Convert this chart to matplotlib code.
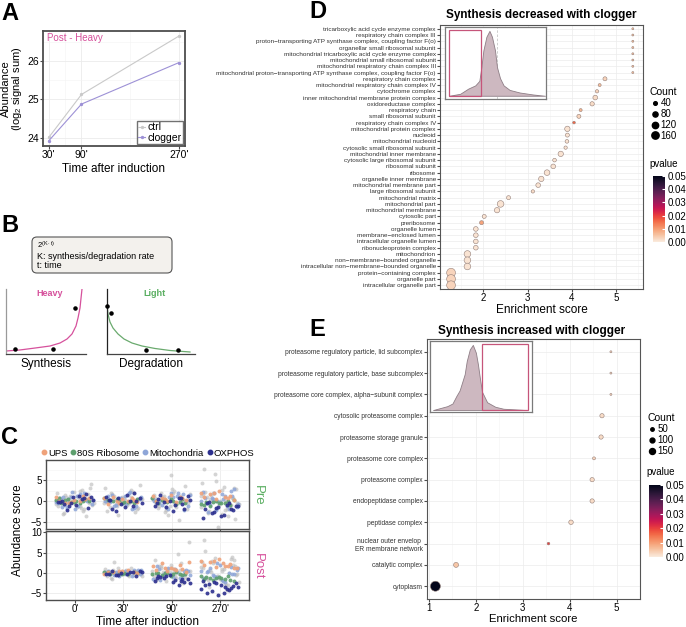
import numpy as np
import matplotlib
matplotlib.use("Agg")
import matplotlib.pyplot as plt
import seaborn as sns
from matplotlib.patches import FancyBboxPatch, Rectangle
from matplotlib.lines import Line2D

plt.rcParams['font.family'] = ['Liberation Sans', 'DejaVu Sans']
plt.rcParams['mathtext.default'] = 'regular'

W, H = 686, 627

# ───────── DATA ─────────
# A: post-heavy abundance
a_times   = [30, 90, 270]
a_ticklab = ["30'", "90'", "270'"]
a_ctrl    = [24.02, 25.13, 26.65]
a_clogger = [23.93, 24.88, 25.96]

# B: schematic curves (time 0-10, signal 0-10)
syn_t   = [0, 1.75, 3.63, 5.5, 6.75, 7.63, 8.25, 8.75, 9.0, 9.25, 9.38, 9.5]
syn_y   = [0.46, 0.62, 0.92, 1.23, 1.69, 2.31, 3.08, 4.31, 5.54, 7.08, 8.62, 10.0]
syn_pt_t = [1.13, 5.88, 8.63]
syn_pt_y = [0.77, 0.77, 7.08]
deg_t   = [0, 0.11, 0.34, 0.68, 1.25, 1.93, 2.84, 3.98, 5.45, 7.16, 9.43]
deg_y   = [7.5, 6.15, 4.92, 4.0, 3.08, 2.31, 1.69, 1.23, 0.85, 0.54, 0.31]
deg_pt_t = [0.0, 0.45, 4.43, 8.07]
deg_pt_y = [7.38, 6.31, 0.62, 0.62]

# C: abundance scores per time point (0', 30', 90', 270')
c_times = ["0'", "30'", "90'", "270'"]
pre_other = [
    [0.3, -1.2, 1.5, -0.4, 2.1, 0.8, -2.3, 0.1, -0.9, 1.1, -3.1, 0.5, -0.2, 1.8, -1.6, 0.9, 3.2, -0.7,
     0.2, -1.9, 1.3, -0.5, 0.6, -2.8, 1.6, 0.0, -1.1, 2.6, -0.3, 4.1, -1.4, 0.4, -3.6, 1.0, -0.8, 2.4],
    [-0.6, 1.4, 0.2, -2.0, 0.9, -0.3, 2.6, -1.3, 0.5, -0.9, 1.9, -2.7, 0.1, 3.0, -0.5, 1.2, -1.7, 0.7,
     -0.1, 2.2, -3.3, 0.4, -1.0, 1.6, -0.2, 0.8, -2.4, 1.0, -0.7, 3.8, 0.3, -1.5, 2.0, -0.4],
    [0.7, -1.5, 1.8, -0.2, 6.3, -0.8, 1.1, -2.6, 0.3, 2.4, -1.1, 0.0, -3.4, 1.4, -0.6, 0.9, -1.9, 2.9,
     -0.3, 0.5, -2.2, 1.7, -0.9, 0.2, 3.5, -1.3, 0.6, -4.6, 1.2, -0.5, 2.0, -1.7, 0.4],
    [1.2, -2.1, 0.4, 3.1, -1.0, 7.6, -3.5, 1.9, -0.4, 2.6, -2.8, 0.8, -1.6, 4.3, -0.2, 1.5, -4.4, 0.1,
     2.2, -1.2, 6.5, -0.7, 3.4, -2.5, 0.6, -6.3, 1.7, -1.9, 0.0, 2.9, -3.1, 1.0, -0.9, 4.8, -1.4, 0.3],
]
pre_mito = [
    [0.5, -0.8, 1.2, -1.4, 0.2, 0.9, -0.3, 1.6, -1.0, 0.1, -1.9, 0.7, 1.9, -0.6, 0.3, -1.2, 1.0, -0.1, 2.2, -0.4, 0.6, -1.6],
    [-0.9, 0.4, 1.3, -0.2, -1.6, 0.8, 0.0, 1.8, -1.1, 0.5, -0.5, 1.1, -2.0, 0.2, 0.9, -0.7, 1.5, -1.3, 0.6, -0.1, 2.1],
    [0.2, -1.3, 0.9, -0.5, 1.6, -1.8, 0.4, 1.2, -0.9, 0.0, 2.0, -0.3, 0.7, -1.5, 1.4, -0.6, 0.3, -2.2, 1.0, -0.1, 1.8],
    [0.5, -1.4, 1.6, -0.6, 2.3, -2.2, 0.1, 1.1, -1.0, 2.8, -0.3, 0.8, -1.8, 1.9, -0.8, 0.4, -2.6, 1.3, -0.1, 2.1, -1.2, 0.7],
]
pre_oxphos = [
    [-0.3, 0.6, -1.1, 0.2, 1.3, -0.7, -1.6, 0.9, -0.2, 0.4, -2.1, 1.0, -0.9, 0.1, 1.7, -0.5],
    [0.3, -1.2, 0.8, -0.4, 1.4, -1.8, 0.1, -0.8, 1.0, -0.1, -2.3, 0.6, -1.4, 0.2, 1.8],
    [-0.5, 0.8, -1.5, 0.3, -0.9, 1.5, -2.0, 0.0, -1.2, 0.6, -0.3, 1.1, -2.5, 0.4, -0.7],
    [-1.8, -0.6, -2.7, -1.1, -3.4, -0.2, -2.2, -1.5, -4.1, -0.9, -2.9, -1.3, -3.7, -0.4, -2.0, -1.7],
]
pre_ribo = [
    [0.1, -0.4, 0.5, -0.2, 0.3, -0.6, 0.2, 0.0, -0.3, 0.6, -0.1, 0.4],
    [-0.2, 0.3, -0.5, 0.1, 0.6, -0.3, 0.0, 0.4, -0.6, 0.2, -0.1, 0.5],
    [0.0, -0.5, 0.4, -0.2, 0.6, -0.7, 0.2, -0.4, 0.5, 0.1, -0.3, 0.3],
    [-0.6, -0.2, -1.0, 0.1, -0.8, -0.4, -1.3, 0.2, -0.5, -0.9, 0.0, -0.3],
]
pre_ups = [
    [0.4, -0.3, 0.9, 0.1, -0.6, 0.6, 0.2, -0.1, 1.1, -0.4],
    [0.2, -0.5, 0.7, 0.0, 1.0, -0.2, 0.4, -0.7, 0.6, 0.1],
    [0.6, 0.1, 1.2, -0.3, 0.8, 0.3, 1.5, -0.1, 0.9, 0.4],
    [1.2, 0.5, 2.0, 0.9, 1.6, 0.2, 2.4, 1.0, 0.7, 1.8],
]
post_other = [
    [],
    [0.2, -0.5, 0.7, -0.2, 0.4, -0.9, 1.1, 0.0, -0.4, 0.6, -1.2, 0.3, -0.1, 0.9, -0.7, 2.6, 0.1,
     -0.3, 0.5, -0.6, 1.3, -0.8, 0.2, -1.5, 0.4, -0.2],
    [0.4, -1.2, 1.3, -0.3, 2.0, -1.8, 0.7, -0.6, 7.7, 0.1, 1.6, -2.4, 0.9, -0.9, 4.6, 0.3, -1.5, 1.1,
     -0.1, 2.4, -2.0, 0.5, -0.7, 1.8, -1.1, 0.2, 3.1, -0.4],
    [1.5, -2.4, 0.6, 3.2, -1.2, 8.1, -3.0, 2.3, -0.3, 1.0, -1.8, 4.0, -0.7, 2.7, -2.9, 0.2, 1.8, -1.5,
     5.3, -0.1, 3.6, -2.2, 0.9, -3.6, 2.0, -0.9, 1.2, -4.2, 2.9, -0.5, 0.4, -1.3, 3.3],
]
post_mito = [
    [],
    [0.1, -0.4, 0.5, -0.2, 0.8, -0.7, 0.3, 0.0, -0.5, 0.6, -0.1, 0.4, -0.9, 0.2, 0.7, -0.3],
    [-0.3, 0.5, -1.0, 0.9, -0.6, 1.3, -1.5, 0.2, -0.8, 0.7, -0.2, 1.6, -1.2, 0.3, -0.5, 1.0, -1.8, 0.4],
    [-0.6, 0.8, -1.7, 0.2, 1.5, -1.1, 0.5, -2.3, 1.1, -0.3, 2.0, -1.4, 0.0, -0.8, 1.3, -1.9, 0.4, -0.4, 2.4, -1.2],
]
post_oxphos = [
    [],
    [-0.2, 0.3, -0.6, 0.1, -0.4, 0.5, -0.8, 0.0, -0.3, 0.2, -0.5, 0.4],
    [-1.4, -2.0, -0.9, -2.6, -1.7, -1.1, -2.3, -0.6, -1.9, -2.9, -1.3, -1.6, -2.2, -0.8, -1.5],
    [-3.0, -4.2, -2.3, -3.6, -4.9, -2.8, -3.3, -5.4, -2.0, -3.9, -4.5, -2.6, -3.1, -5.0, -3.7, -2.4, -4.1, -3.4],
]
post_ribo = [
    [],
    [0.0, -0.2, 0.2, -0.1, 0.1, -0.3, 0.3, 0.0, -0.2, 0.1],
    [-0.3, 0.0, -0.6, -0.1, -0.4, 0.1, -0.5, -0.2, -0.7, 0.0, -0.3, -0.1],
    [-1.4, -1.0, -1.8, -1.2, -0.8, -1.6, -1.3, -2.0, -1.1, -1.5, -0.9, -1.7],
]
post_ups = [
    [],
    [0.1, 0.4, -0.2, 0.6, 0.2, -0.1, 0.5, 0.3],
    [1.0, 0.5, 1.7, 0.8, 2.3, 0.3, 1.3, 0.6, 1.9, 1.1, 2.7, 0.9],
    [2.2, 1.4, 3.0, 1.8, 2.6, 1.1, 3.4, 2.0, 1.6, 2.8, 1.3, 2.4],
]

# D: GO terms, synthesis decreased
d_labels = [
    "tricarboxylic acid cycle enzyme complex",
    "respiratory chain complex III",
    "proton\u2212transporting ATP synthase complex, coupling factor F(o)",
    "organellar small ribosomal subunit",
    "mitochondrial tricarboxylic acid cycle enzyme complex",
    "mitochondrial small ribosomal subunit",
    "mitochondrial respiratory chain complex III",
    "mitochondrial proton\u2212transporting ATP synthase complex, coupling factor F(o)",
    "respiratory chain complex",
    "mitochondrial respiratory chain complex IV",
    "cytochrome complex",
    "inner mitochondrial membrane protein complex",
    "oxidoreductase complex",
    "respiratory chain",
    "small ribosomal subunit",
    "respiratory chain complex IV",
    "mitochondrial protein complex",
    "nucleoid",
    "mitochondrial nucleoid",
    "cytosolic small ribosomal subunit",
    "mitochondrial inner membrane",
    "cytosolic large ribosomal subunit",
    "ribosomal subunit",
    "ribosome",
    "organelle inner membrane",
    "mitochondrial membrane part",
    "large ribosomal subunit",
    "mitochondrial matrix",
    "mitochondrial part",
    "mitochondrial membrane",
    "cytosolic part",
    "preribosome",
    "organelle lumen",
    "membrane\u2212enclosed lumen",
    "intracellular organelle lumen",
    "ribonucleoprotein complex",
    "mitochondrion",
    "non\u2212membrane\u2212bounded organelle",
    "intracellular non\u2212membrane\u2212bounded organelle",
    "protein\u2212containing complex",
    "organelle part",
    "intracellular organelle part",
]
d_score = [5.38, 5.38, 5.38, 5.38, 5.38, 5.38, 5.38, 5.38, 4.75, 4.63, 4.57, 4.53, 4.46, 4.20,
           4.16, 4.05, 3.90, 3.90, 3.89, 3.86, 3.75, 3.61, 3.58, 3.44, 3.31, 3.24, 3.12, 2.57,
           2.39, 2.31, 2.02, 1.96, 1.83, 1.83, 1.83, 1.83, 1.64, 1.64, 1.64, 1.27, 1.27, 1.27]
d_count = [12, 12, 12, 12, 12, 12, 12, 12, 48, 27, 33, 65, 55, 27, 48, 22, 85, 48, 40, 33, 85,
           40, 65, 95, 85, 65, 33, 48, 130, 85, 48, 48, 65, 65, 65, 65, 130, 130, 130, 230, 230, 230]
d_pval = [0.006, 0.006, 0.006, 0.006, 0.006, 0.006, 0.006, 0.006, 0.003, 0.006, 0.003, 0.002,
          0.002, 0.007, 0.003, 0.016, 0.001, 0.001, 0.001, 0.001, 0.001, 0.001, 0.001, 0.001,
          0.001, 0.001, 0.002, 0.001, 0.001, 0.001, 0.001, 0.009, 0.001, 0.001, 0.001, 0.001,
          0.001, 0.001, 0.001, 0.003, 0.003, 0.003]
d_dens_x = [4, 15, 23, 30, 34, 36, 38, 41, 44, 46.5, 49.5, 51.5, 54.5, 58, 64, 74, 87, 99]
d_dens_y = [0, 0.03, 0.11, 0.16, 0.23, 0.44, 0.70, 0.91, 1.0, 0.91, 0.70, 0.44, 0.27, 0.16,
            0.09, 0.05, 0.02, 0]

# E: GO terms, synthesis increased
e_labels = [
    "proteasome regulatory particle, lid subcomplex",
    "proteasome regulatory particle, base subcomplex",
    "proteasome core complex, alpha\u2212subunit complex",
    "cytosolic proteasome complex",
    "proteasome storage granule",
    "proteasome core complex",
    "proteasome complex",
    "endopeptidase complex",
    "peptidase complex",
    "nuclear outer envelop\nER membrane network",
    "catalytic complex",
    "cytoplasm",
]
e_score = [4.88, 4.88, 4.88, 4.69, 4.67, 4.52, 4.48, 4.48, 4.03, 3.55, 1.58, 1.14]
e_count = [17, 17, 17, 77, 77, 37, 77, 77, 85, 30, 104, 416]
e_pval = [0.003, 0.003, 0.003, 0.002, 0.002, 0.003, 0.002, 0.002, 0.002, 0.02, 0.005, 0.05]
e_dens_x = [3, 17, 22, 26, 29, 34, 36, 39, 42, 45, 47, 49, 51, 56, 64, 72, 95]
e_dens_y = [0, 0.06, 0.10, 0.22, 0.30, 0.55, 0.75, 0.93, 1.0, 0.88, 0.70, 0.48, 0.28, 0.12,
            0.05, 0.02, 0]

# ───────── HELPERS ─────────
fig = plt.figure(figsize=(6.86, 6.27), dpi=100)


def box(l, t, r, b):
    return fig.add_axes([l / W, 1 - b / H, (r - l) / W, (b - t) / H])


def ftext(x, y, s, **kw):
    return fig.text(x / W, 1 - y / H, s, **kw)


GRID = '#ebebeb'
SPINE = '#4d4d4d'
PINK = '#d6519c'
GREEN = '#5aae61'
cmap = sns.color_palette("rocket_r", as_cmap=True)

for lab, x, y in [('A', 1, 13), ('B', 1, 226), ('C', 1, 437), ('D', 309, 12), ('E', 309, 329)]:
    ftext(x, y, lab, fontsize=17, fontweight='bold', va='center')

# ─── A ───
axA = box(43, 31, 185, 146)
axA.plot(a_times, a_ctrl, color='#c9c9c9', lw=0.8, marker='o', ms=1.4, label='ctrl')
axA.plot(a_times, a_clogger, color='#9d91d6', lw=0.8, marker='o', ms=1.4, label='clogger')
axA.set_xlim(19, 281)
axA.set_ylim(23.79, 26.78)
axA.set_xticks(a_times)
axA.set_xticklabels(a_ticklab)
axA.set_yticks([24, 25, 26])
axA.set_xticks([60, 180], minor=True)
axA.set_yticks([24.5, 25.5, 26.5], minor=True)
axA.grid(True, which='major', color=GRID, lw=0.6)
axA.grid(True, which='minor', color='#f4f4f4', lw=0.4)
axA.set_axisbelow(True)
axA.tick_params(labelsize=7.5, length=2, pad=1, color=SPINE)
axA.tick_params(which='minor', length=0)
for s in axA.spines.values():
    s.set_color(SPINE)
    s.set_linewidth(1.3)
axA.set_xlabel('Time after induction', fontsize=8.5, labelpad=2)
ftext(12, 89, 'Abundance\n(log$_2$ signal sum)', fontsize=8, rotation=90, ha='center',
      va='center', linespacing=0.9)
ftext(47, 38, 'Post - Heavy', color=PINK, fontsize=7, va='center')
legA = axA.legend(loc='lower right', fontsize=7.5, handlelength=0.6, handletextpad=0.3,
                  borderpad=0.15, labelspacing=0.05, borderaxespad=0.15, fancybox=False)
legA.get_frame().set_edgecolor(SPINE)
legA.get_frame().set_linewidth(1.0)

# ─── B ───
axBox = box(32, 237, 172, 273)
axBox.set_axis_off()
axBox.add_patch(FancyBboxPatch((0, 0), 1, 1, boxstyle='round,pad=0,rounding_size=0.035',
                               mutation_aspect=140 / 36, facecolor='#f3f1ed',
                               edgecolor='#555555', lw=0.8, transform=axBox.transAxes,
                               clip_on=False))
ftext(37, 245, r'$2^{(K\cdot t)}$', fontsize=5.5, va='center')
ftext(37, 256, 'K: synthesis/degradation rate', fontsize=6.5, va='center')
ftext(37, 265, 't: time', fontsize=6.5, va='center')

axS = box(6, 289, 86, 354)
axS.plot(syn_t, syn_y, color=PINK, lw=0.9)
axS.scatter(syn_pt_t, syn_pt_y, s=5, color='black', zorder=3, clip_on=False)
axDg = box(107, 289, 195, 354)
axDg.plot(deg_t, deg_y, color='#6aaa6e', lw=0.9)
axDg.scatter(deg_pt_t, deg_pt_y, s=5, color='black', zorder=3, clip_on=False)
for ax, name, lcol in ((axS, 'Synthesis', '#9a9a9a'), (axDg, 'Degradation', '#222222')):
    ax.set_xlim(0, 10)
    ax.set_ylim(0, 10)
    ax.set_xticks([])
    ax.set_yticks([])
    ax.spines['top'].set_visible(False)
    ax.spines['right'].set_visible(False)
    ax.spines['left'].set_color(lcol)
    ax.spines['bottom'].set_color('#444444')
    ax.spines['left'].set_linewidth(0.9)
    ax.spines['bottom'].set_linewidth(0.9)
    ax.set_xlabel(name, fontsize=8.5, labelpad=3)
ftext(50, 293, 'Heavy', color=PINK, fontsize=6.5, fontweight='bold', ha='center', va='center')
ftext(155, 293, 'Light', color=GREEN, fontsize=6.5, fontweight='bold', ha='center', va='center')

# ─── C ───
c_styles = [('other', '#bdbdbd', 0.65, 0.00), ('Mitochondria', '#8ea6d8', 0.85, 0.31),
            ('80S Ribosome', '#5e9f6e', 0.9, 0.53), ('UPS', '#efa27a', 0.9, 0.77),
            ('OXPHOS', '#2c2f8e', 0.9, 0.12)]
pre_sets = [pre_other, pre_mito, pre_ribo, pre_ups, pre_oxphos]
post_sets = [post_other, post_mito, post_ribo, post_ups, post_oxphos]


def spread(n, phase):
    return ((np.arange(n) * 0.618034 + phase) % 1.0 - 0.5) * 0.8


axC1 = box(46, 460, 249, 529)
axC2 = box(46, 531, 249, 600)
for ax, sets, ylim, yt in ((axC1, pre_sets, (-6.7, 9.8), [-5, 0, 5]),
                           (axC2, post_sets, (-6.7, 10.3), [-5, 0, 5, 10])):
    for (name, col, alpha, phase), vals in zip(c_styles, sets):
        for ti, ys in enumerate(vals):
            if ys:
                ax.scatter(ti + 1 + spread(len(ys), phase), ys, s=8, color=col, lw=0,
                           alpha=alpha)
    ax.set_xlim(0.4, 4.6)
    ax.set_ylim(*ylim)
    ax.set_xticks([1, 2, 3, 4])
    ax.set_yticks(yt)
    ax.set_yticks([-2.5, 2.5, 7.5], minor=True)
    ax.grid(True, which='major', color=GRID, lw=0.6)
    ax.grid(True, which='minor', axis='y', color='#f4f4f4', lw=0.4)
    ax.set_axisbelow(True)
    ax.tick_params(labelsize=7, length=2, pad=1, color=SPINE)
    ax.tick_params(which='minor', length=0)
    for s in ax.spines.values():
        s.set_color(SPINE)
        s.set_linewidth(1.0)
axC1.set_xticklabels([])
axC2.set_xticklabels(c_times)
axC2.set_xlabel('Time after induction', fontsize=8.5, labelpad=1)
ftext(18, 530, 'Abundance score', fontsize=8.5, rotation=90, ha='center', va='center')
ftext(258, 495, 'Pre', color=GREEN, fontsize=9.5, rotation=-90, ha='center', va='center')
ftext(258, 566, 'Post', color=PINK, fontsize=9.5, rotation=-90, ha='center', va='center')
c_handles = [Line2D([], [], ls='', marker='o', ms=3.2, color=c[1], label=c[0])
             for c in (c_styles[3], c_styles[2], c_styles[1], c_styles[4])]
axC1.legend(handles=c_handles, loc='center left', bbox_to_anchor=(41 / W, 1 - 453 / H),
            bbox_transform=fig.transFigure, ncol=4, frameon=False, fontsize=6.8,
            handlelength=0.6, handletextpad=0.15, columnspacing=0.3, borderpad=0,
            borderaxespad=0)


# ─── D & E ───
def go_panel(rect, labels, score, count, pval, size_k, xlim, xticks, lab_fs, xl_fs):
    ax = box(*rect)
    n = len(labels)
    ypos = np.arange(n)[::-1]
    sc = ax.scatter(score, ypos, s=np.array(count) * size_k, c=pval, cmap=cmap, vmin=0,
                    vmax=0.05, edgecolors='#94807a', linewidths=0.4, zorder=3)
    ax.set_ylim(-0.6, n - 0.4)
    ax.set_xlim(*xlim)
    ax.set_yticks(ypos)
    ax.set_yticklabels(labels, fontsize=lab_fs, color='#333333', multialignment='center')
    ax.set_xticks(xticks)
    ax.set_xticks(np.arange(1.5, 6, 1.0), minor=True)
    ax.grid(True, which='major', color='#ececec', lw=0.5)
    ax.grid(True, which='minor', axis='x', color='#f3f3f3', lw=0.4)
    ax.set_axisbelow(True)
    ax.tick_params(axis='x', labelsize=7, length=2, pad=1, color=SPINE)
    ax.tick_params(axis='y', length=2, pad=1, color=SPINE)
    ax.tick_params(which='minor', length=0)
    for s in ax.spines.values():
        s.set_color('#555555')
        s.set_linewidth(0.8)
    ax.set_xlabel('Enrichment score', fontsize=xl_fs, labelpad=0.5)
    return ax, sc


def inset(rect, dx, dy, sel_x0, sel_x1, ylim, dash_x=None):
    ax = box(*rect)
    ax.set_zorder(5)
    ax.fill_between(dx, dy, 0, color='#cdb8c0', edgecolor='#8e7e86', lw=0.6)
    if dash_x is not None:
        ax.axvline(dash_x, color='#c8c8c8', ls=(0, (3, 2)), lw=0.6, zorder=0)
    ax.add_patch(Rectangle((sel_x0, 0), sel_x1 - sel_x0, 1.02, fill=False,
                           edgecolor='#c6557a', lw=0.9, zorder=4))
    ax.set_xlim(0, 100)
    ax.set_ylim(*ylim)
    ax.set_xticks([])
    ax.set_yticks([])
    for s in ax.spines.values():
        s.set_color('#7a7a7a')
        s.set_linewidth(0.9)
    return ax


def size_legend(ax, vals, size_k, x, y):
    hs = [Line2D([], [], ls='', marker='o', color='black', ms=np.sqrt(v * size_k),
                 label=str(v)) for v in vals]
    leg = ax.legend(handles=hs, title='Count', loc='upper left',
                    bbox_to_anchor=(x / W, 1 - y / H), bbox_transform=fig.transFigure,
                    frameon=False, fontsize=7, title_fontsize=7.5, alignment='left',
                    handletextpad=0.1, labelspacing=0.1, borderpad=0, handlelength=1.0,
                    borderaxespad=0)
    return leg


def pbar(sc, rect, x, y):
    ftext(x, y, 'pvalue', fontsize=7, va='center')
    cb = fig.colorbar(sc, cax=box(*rect))
    cb.set_ticks([0, 0.01, 0.02, 0.03, 0.04, 0.05])
    cb.set_ticklabels(['0.00', '0.01', '0.02', '0.03', '0.04', '0.05'])
    cb.outline.set_visible(False)
    cb.ax.tick_params(labelsize=7, length=2, color='white', direction='in', pad=2)


kD = 0.1744
axDm, scD = go_panel((440, 25, 643, 289), d_labels, d_score, d_count, d_pval, kD,
                     (1.02, 5.61), [2, 3, 4, 5], 4.6, 8.5)
ftext(446, 15, 'Synthesis decreased with clogger', fontsize=8.5, fontweight='bold', va='center')
inset((445, 27, 546, 99), d_dens_x, d_dens_y, 4, 35.6, (-0.05, 1.06), dash_x=51.5)
size_legend(axDm, [40, 80, 120, 160], kD, 650, 87)
pbar(scD, (653, 176, 665, 242), 649, 164)

kE = 0.1245
axEm, scE = go_panel((427, 339, 640, 599), e_labels, e_score, e_count, e_pval, kE,
                     (0.961, 5.08), [1, 2, 3, 4, 5], 4.8, 8.2)
ftext(438, 331, 'Synthesis increased with clogger', fontsize=8.5, fontweight='bold', va='center')
inset((430, 341, 532, 412), e_dens_x, e_dens_y, 51, 96, (-0.03, 1.06))
size_legend(axEm, [50, 100, 150], kE, 647, 413)
pbar(scE, (649, 485, 663, 557), 646, 472)

fig.savefig('out.png', dpi=100)
